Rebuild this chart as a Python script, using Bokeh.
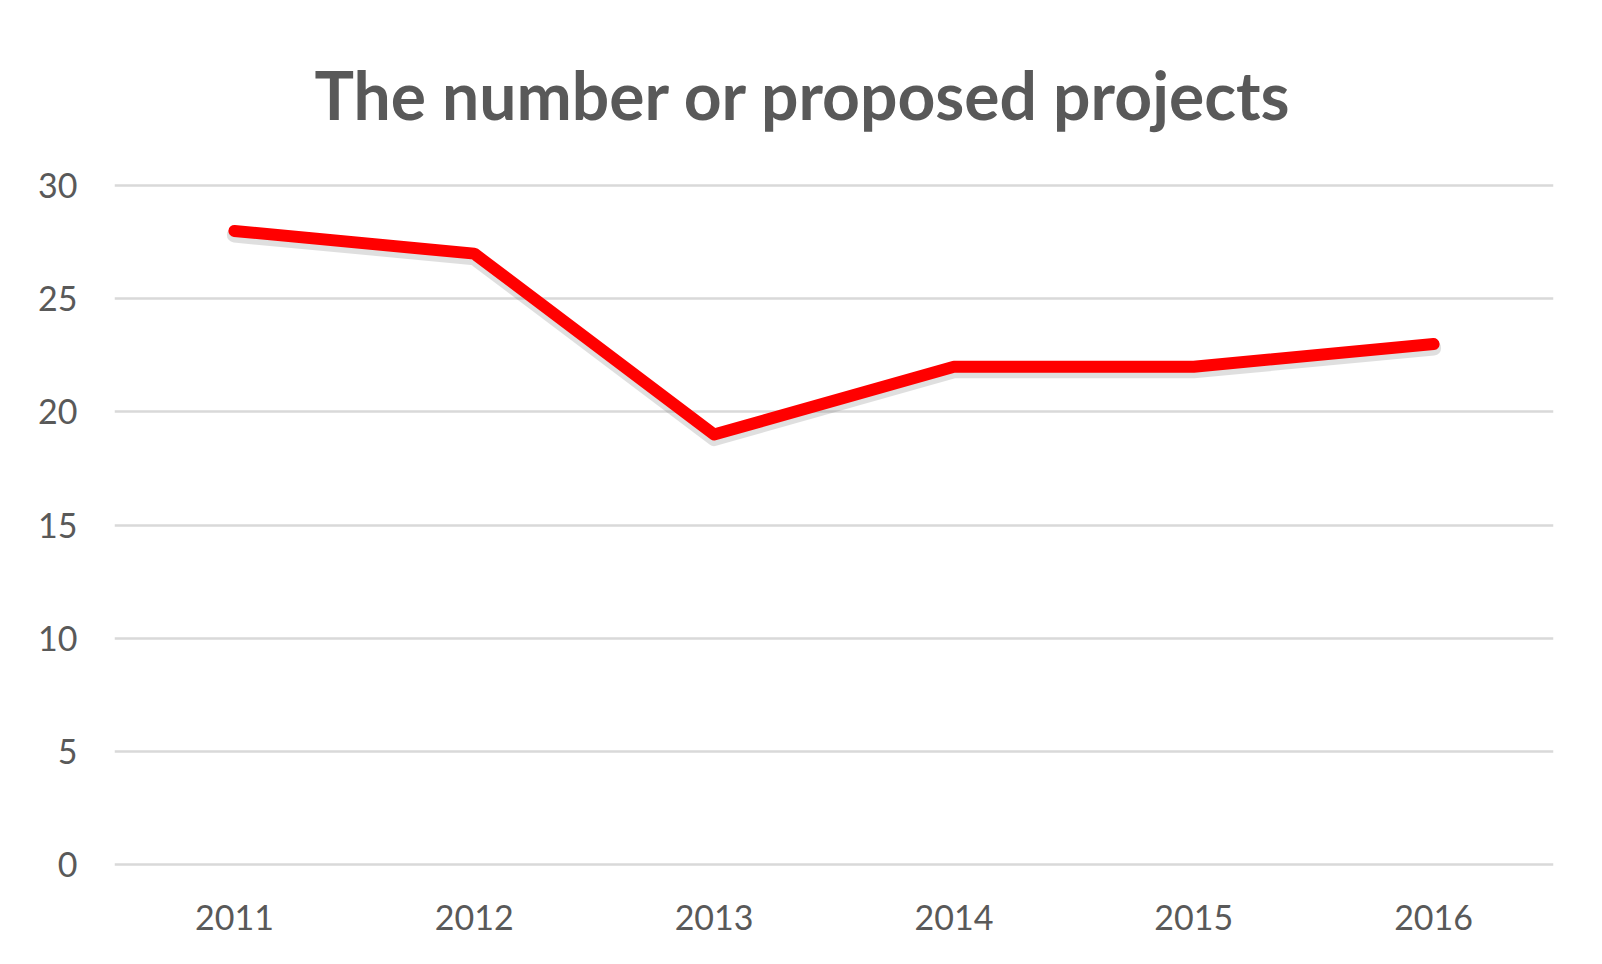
from bokeh.plotting import figure
from bokeh.models import FactorRange, Range1d, FixedTicker
from bokeh.embed import file_html
from bokeh.resources import INLINE

years = ["2011", "2012", "2013", "2014", "2015", "2016"]
projects = [28, 27, 19, 22, 22, 23]
y_ticks = [0, 5, 10, 15, 20, 25, 30]
title_text = "The number or proposed projects"

W, H = 1584, 944
p = figure(
    width=W, height=H,
    x_range=FactorRange(*years, range_padding=0),
    y_range=Range1d(-0.1, 30.1),
    output_backend="svg", toolbar_location=None,
    min_border_left=114, min_border_right=W - 1553,
    min_border_top=183, min_border_bottom=H - 866,
    title=title_text,
)
p.title.align = "left"
p.title.text_font = "Lato"
p.title.text_font_style = "bold"
p.title.text_font_size = "66px"
p.title.text_color = "#595959"
p.title.standoff = 100
p.title.offset = 200

p.background_fill_color = "white"
p.border_fill_color = "white"
p.outline_line_color = None

p.xgrid.grid_line_color = None
p.ygrid.grid_line_color = "#D9D9D9"
p.ygrid.grid_line_width = 2.5
p.yaxis.ticker = FixedTicker(ticks=y_ticks)

for ax in (p.xaxis, p.yaxis):
    ax.axis_line_color = None
    ax.major_tick_line_color = None
    ax.minor_tick_line_color = None
    ax.major_label_text_font = "Lato"
    ax.major_label_text_font_size = "34px"
    ax.major_label_text_color = "#595959"
p.yaxis.major_label_standoff = 31
p.xaxis.major_label_standoff = 32

shadow = [v - 0.18 for v in projects]
p.line(years, shadow, line_color="#808080", line_alpha=0.25, line_width=15,
       line_cap="round", line_join="round")
p.line(years, projects, line_color="#FF0000", line_width=12,
       line_cap="round", line_join="round")

open("out.html", "w").write(file_html(p, INLINE))
